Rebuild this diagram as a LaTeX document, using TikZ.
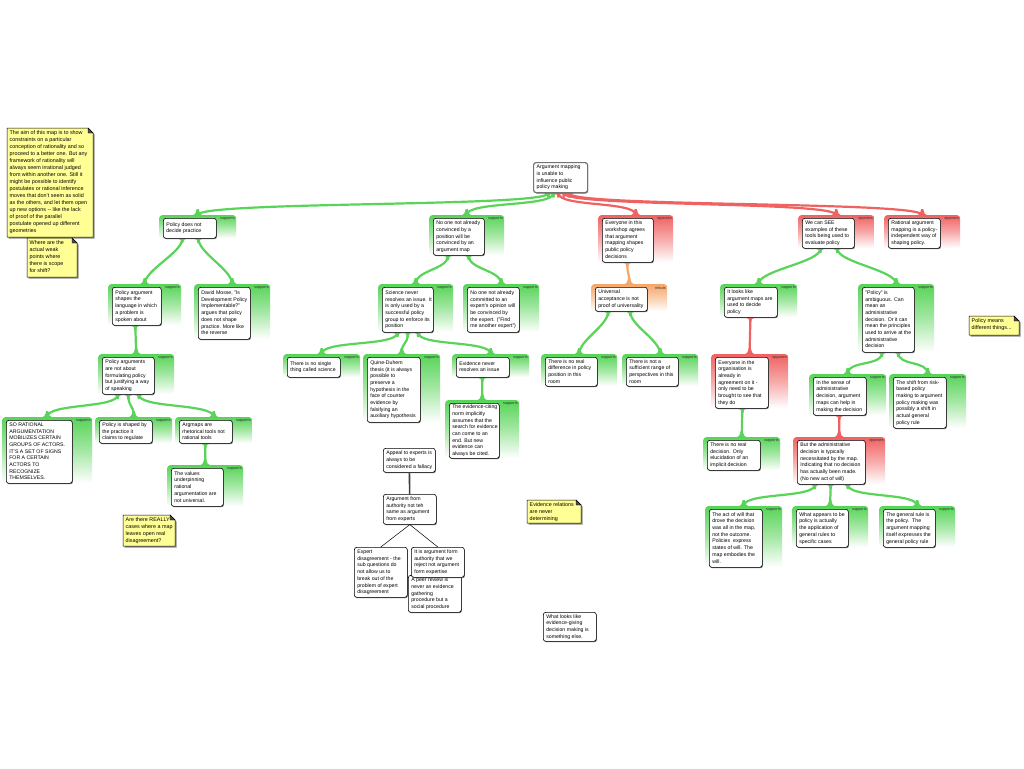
\documentclass[tikz,border=0pt]{standalone}
\usepackage{fontspec}
\setmainfont{Liberation Sans}
\usetikzlibrary{calc,shadows}
\pgfdeclarelayer{bg}
\pgfsetlayers{bg,main}
\definecolor{sg}{RGB}{88,212,88}
\definecolor{sr}{RGB}{240,98,98}
\definecolor{so}{RGB}{246,166,106}
\definecolor{noteY}{RGB}{255,255,150}
\newcommand\TL[1]{\begin{tabular}{@{}l@{}}#1\end{tabular}}
\newcommand\argbox[8]{%
  \pgfmathsetmacro\myPW{#4+24}%
  \pgfmathsetmacro\myPH{#5+3}%
  \pgfmathsetmacro\myTW{#4-6}%
  \node[panel, top color=#6, bottom color=white, middle color=#6!55, minimum width=\myPW pt, minimum height=\myPH pt, anchor=north west] (#1p) at (#2-4,#3-3) {};
  \node[lab, anchor=north east] (#1l) at ($(#1p.north east)+(-1.5,2.2)$) {#7};
  \node[box, minimum width=#4pt, minimum height=#5pt, anchor=north west] (#1) at (#2,#3) {\makebox[\myTW pt][l]{\TL{#8}}};
}
\newcommand\plainbox[7][]{%
  \pgfmathsetmacro\myTW{#5-6}%
  \node[box, #1, minimum width=#5pt, minimum height=#6pt, anchor=north west] (#2) at (#3,#4) {\makebox[\myTW pt][l]{\TL{#7}}};
}
\newcommand\conn[4]{%
  \path ($(#2.south west)!#3!(#2.south east)$) coordinate (s) (#4p.north) coordinate (e);
  \draw[line width=2.2pt, draw=#1] (s) .. controls +(0,14) and +(0,-14) .. (e);
  \fill[#1] ($(s)+(-4.5,0)$) .. controls +(3,0) and +(0,-2.5) .. ($(s)+(-1,4.5)$) -- ($(s)+(1,4.5)$) .. controls +(0,-2.5) and +(-3,0) .. ($(s)+(4.5,0)$) -- cycle;
  \fill[#1] ($(e)+(-7,0.5)$) .. controls +(4.5,0) and +(0,3) .. ($(e)+(-1,-6)$) -- ($(e)+(1,-6)$) .. controls +(0,3) and +(-4.5,0) .. ($(e)+(7,0.5)$) -- cycle;
}
\newcommand\notebox[6]{%
  \fill[black!45] (#2+1.5,#3+1.5) -- (#2+#4+1.5-5,#3+1.5) -- (#2+#4+1.5,#3+6.5) -- (#2+#4+1.5,#3+#5+1.5) -- (#2+1.5,#3+#5+1.5) -- cycle;
  \draw[fill=noteY, line width=0.5pt] (#2,#3) -- (#2+#4-5,#3) -- (#2+#4,#3+5) -- (#2+#4,#3+#5) -- (#2,#3+#5) -- cycle;
  \draw[fill=black!70, line width=0.4pt] (#2+#4-5,#3) -- (#2+#4-5,#3+5) -- (#2+#4,#3+5) -- cycle;
  \node[notetext, anchor=north west] (#1) at (#2+2.5,#3+1.5) {\TL{#6}};
}
\begin{document}
\begin{tikzpicture}[x=1pt,y=-1pt,
  box/.style={draw=black, line width=0.6pt, fill=white, rounded corners=2.5pt, inner xsep=3pt, inner ysep=0.5pt,
    font=\fontsize{5.2}{6.7}\selectfont,
    drop shadow={shadow xshift=0.6pt, shadow yshift=-0.9pt, fill=black!55, opacity=1}},
  rootbox/.style={draw=black!55, line width=1.2pt},
  panel/.style={draw=none, rounded corners=3pt, inner sep=0pt},
  lab/.style={font=\fontsize{3.8}{4}\selectfont, text=black!80, inner sep=0pt},
  notetext/.style={font=\fontsize{5.4}{7}\selectfont, inner sep=0pt}]
\begin{pgfonlayer}{bg}
\fill[white] (0,0) rectangle (1024,768);
\end{pgfonlayer}
\useasboundingbox (0,0) rectangle (1024,768);

% notes
\notebox{n1}{7}{128}{86}{109}{The aim of this map is to show\\constraints on a particular\\conception of rationality and so\\proceed to a better one. But any\\framework of rationality will\\always seem irrational judged\\from within another one. Still it\\might be possible to identify\\postulates or rational inference\\moves that don't seem as solid\\as the others, and let them open\\up new options -{}- like the lack\\of proof of the parallel\\postulate opened up different\\geometries}
\notebox{n2}{27}{238}{50}{39}{Where are the\\actual weak\\points where\\there is scope\\for shift?}
\notebox{n3}{123}{515}{52}{31}{Are there REALLY\\cases where a map\\leaves open real\\disagreement?}
\notebox{n4}{527}{500}{54}{23}{Evidence relations\\are never\\determining}
\notebox{n5}{969}{316}{50}{19}{Policy means\\different things...}

% root
\plainbox[rootbox]{root}{533}{162}{54}{30}{Argument mapping\\is unable to\\influence public\\policy making}

% level 1
\argbox{a1}{163}{218}{53}{20}{sg}{supports}{Policy does not\\decide practice}
\argbox{a2}{433}{218}{51}{37}{sg}{supports}{No one not already\\convinced by a\\position will be\\convinced by an\\argument map}
\argbox{a3}{602}{218}{51}{44}{sr}{opposes}{Everyone in this\\workshop agrees\\that argument\\mapping shapes\\public policy\\decisions}
\argbox{a4}{802}{218}{52}{30}{sr}{opposes}{We can SEE\\examples of these\\tools being used to\\evaluate policy}
\argbox{a5}{888}{218}{52}{30}{sr}{opposes}{Rational argument\\mapping is a policy-\\independent way of\\shaping policy.}

% left branch
\argbox{b1}{112}{287}{49}{38}{sg}{supports}{Policy argument\\shapes the\\language in which\\a problem is\\spoken about}
\argbox{b2}{198}{287}{52}{52}{sg}{supports}{David Mosse, "Is\\Development Policy\\Implementable?"\\argues that policy\\does not shape\\practice. More like\\the reverse}
\argbox{c1}{102}{357}{52}{37}{sg}{supports}{Policy arguments\\are not about\\formulating policy\\but justifying a way\\of speaking}
\argbox{d1}{6}{420}{66}{63}{sg}{supports}{SO RATIONAL\\ARGUMENTATION\\MOBILIZES CERTAIN\\GROUPS OF ACTORS.\\IT'S A SET OF SIGNS\\FOR A CERTAIN\\ACTORS TO\\RECOGNIZE\\THEMSELVES.}
\argbox{d2}{99}{420}{53}{23}{sg}{supports}{Policy is shaped by\\the practice it\\claims to regulate}
\argbox{d3}{179}{420}{53}{23}{sg}{supports}{Argmaps are\\rhetorical tools not\\rational tools}
\argbox{d4}{171}{468}{52}{38}{sg}{supports}{The values\\underpinning\\rational\\argumentation are\\not universal.}

% middle branch
\argbox{e1}{382}{287}{51}{45}{sg}{supports}{Science never\\resolves an issue. It\\is only used by a\\successful policy\\group to enforce its\\position}
\argbox{e2}{467}{287}{52}{45}{sg}{supports}{No one not already\\committed to an\\expert's opinion will\\be convinced by\\the expert. ("Find\\me another expert")}
\argbox{f1}{287}{357}{53}{20}{sg}{supports}{There is no single\\thing called science}
\argbox{f2}{367}{357}{53}{65}{sg}{supports}{Quine-Duhem\\thesis (it is always\\possible to\\preserve a\\hypothesis in the\\face of counter\\evidence by\\falsifying an\\auxiliary hypothesis}
\argbox{f3}{456}{357}{53}{20}{sg}{supports}{Evidence never\\resolves an issue}
\argbox{f4}{449}{403}{50}{55}{sg}{supports}{The evidence-citing\\norm implicitly\\assumes that the\\search for evidence\\can come to an\\end. But new\\evidence can\\always be cited.}

% workshop branch
\argbox{g1}{595}{287}{52}{24}{so}{rebuts}{Universal\\acceptance is not\\proof of universality}
\argbox{g2}{545}{357}{52}{29}{sg}{supports}{There is no real\\difference in policy\\position in this\\room}
\argbox{g3}{626}{357}{52}{29}{sg}{supports}{There is not a\\sufficient range of\\perspectives in this\\room}

% right branch
\argbox{h1}{724}{287}{53}{30}{sg}{supports}{It looks like\\argument maps are\\used to decide\\policy}
\argbox{h2}{862}{287}{52}{65}{sg}{supports}{"Policy" is\\ambiguous. Can\\mean an\\administrative\\decision. Or it can\\mean the principles\\used to arrive at the\\administrative\\decision}
\argbox{h3}{715}{357}{53}{51}{sr}{opposes}{Everyone in the\\organisation is\\already in\\agreement on it -\\only need to be\\brought to see that\\they do}
\argbox{h4}{707}{440}{53}{30}{sg}{supports}{There is no real\\decision. Only\\elucidation of an\\implicit decision}
\argbox{h5}{813}{377}{53}{38}{sg}{supports}{In the sense of\\administrative\\decision, argument\\maps can help in\\making the decision}
\argbox{h6}{893}{377}{53}{51}{sg}{supports}{The shift from risk-\\based policy\\making to argument\\policy making was\\possibly a shift in\\actual general\\policy rule}
\argbox{h7}{797}{440}{68}{44}{sr}{opposes}{But the administrative\\decision is typically\\necessitated by the map.\\Indicating that no decision\\has actually been made.\\(No new act of will)}
\argbox{h8}{709}{509}{53}{58}{sg}{supports}{The act of will that\\drove the decision\\was all in the map,\\not the outcome.\\Policies\ \ express\\states of will. The\\map embodies the\\will.}
\argbox{h9}{796}{509}{52}{38}{sg}{supports}{What appears to be\\policy is actually\\the application of\\general rules to\\specific cases}
\argbox{h10}{883}{509}{52}{38}{sg}{supports}{The general rule is\\the policy.\ \ The\\argument mapping\\itself expresses the\\general policy rule}

% unattached boxes
\plainbox{ap}{383}{448}{52}{24}{Appeal to experts is\\always to be\\considered a fallacy}
\plainbox{aa}{383}{494}{53}{30}{Argument from\\authority not teh\\same as argument\\from experts}
\plainbox{ed}{354}{547}{53}{50}{Expert\\disagreement - the\\sub questions do\\not allow us to\\break out of the\\problem of expert\\disagreement}
\plainbox{pr}{408}{575}{53}{37}{A peer review is\\never an evidence\\gathering\\procedure but a\\social procedure}
\plainbox{ia}{411}{547}{53}{30}{It is argument form\\authority that we\\reject not argument\\form expertise}
\plainbox{wl}{543}{612}{53}{29}{What looks like\\evidence-giving\\decision making is\\something else.}

\draw[black!75, line width=1.6pt] (ap) -- (aa);
\draw[black, line width=0.5pt] (aa.south) -- (ed.north);
\draw[black, line width=0.5pt] (aa.south) -- (ia.north);

\begin{pgfonlayer}{bg}
\conn{sg}{root}{0.28}{a1}
\conn{sg}{root}{0.37}{a2}
\conn{sr}{root}{0.46}{a3}
\conn{sr}{root}{0.56}{a4}
\conn{sr}{root}{0.65}{a5}
\conn{sg}{a1}{0.36}{b1}
\conn{sg}{a1}{0.66}{b2}
\conn{sg}{b1}{0.47}{c1}
\conn{sg}{c1}{0.3}{d1}
\conn{sg}{c1}{0.5}{d2}
\conn{sg}{c1}{0.7}{d3}
\conn{sg}{d3}{0.49}{d4}
\conn{sg}{a2}{0.29}{e1}
\conn{sg}{a2}{0.69}{e2}
\conn{sg}{e1}{0.3}{f1}
\conn{sg}{e1}{0.5}{f2}
\conn{sg}{e1}{0.7}{f3}
\conn{sg}{f3}{0.49}{f4}
\conn{so}{a3}{0.49}{g1}
\conn{sg}{g1}{0.25}{g2}
\conn{sg}{g1}{0.67}{g3}
\conn{sg}{a4}{0.35}{h1}
\conn{sg}{a4}{0.67}{h2}
\conn{sr}{h1}{0.49}{h3}
\conn{sg}{h3}{0.51}{h4}
\conn{sg}{h2}{0.38}{h5}
\conn{sg}{h2}{0.69}{h6}
\conn{sr}{h5}{0.49}{h7}
\conn{sg}{h7}{0.26}{h8}
\conn{sg}{h7}{0.49}{h9}
\conn{sg}{h7}{0.74}{h10}
\end{pgfonlayer}
\end{tikzpicture}
\end{document}
